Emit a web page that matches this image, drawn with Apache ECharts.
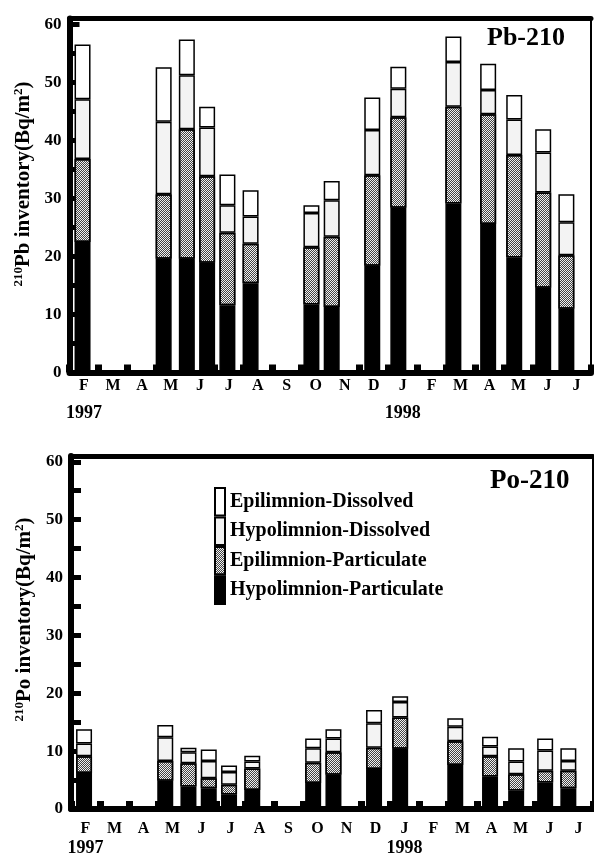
<!DOCTYPE html>
<html>
<head>
<meta charset="utf-8">
<script src="https://cdn.jsdelivr.net/npm/echarts@6/dist/echarts.min.js"></script>
<style>
  html, body { margin: 0; padding: 0; background: #fff; }
  #chart { width: 594px; height: 857px; }
</style>
</head>
<body>
<div id="chart"></div>
<script>
// month labels along the bottom, years under F 1997 and J 1998
const months = ['F', 'M', 'A', 'M', 'J', 'J', 'A', 'S', 'O', 'N', 'D', 'J', 'F', 'M', 'A', 'M', 'J', 'J']
const yearAt = [0, 11]
const yearText = ['1997', '1998']

// sampling dates, in months from 1 Feb 1997
const sampleTime = [0.44, 3.28, 4.01, 4.75, 5.42, 6.21, 8.38, 9.02, 10.45, 11.38, 13.26, 14.43, 15.38, 16.38, 17.1]

// Pb-210 inventory (Bq/m2)
const pbHypoPart = [22.5, 19.6, 19.6, 18.9, 11.6, 15.4, 11.7, 11.3, 18.4, 28.4, 29.1, 25.6, 19.8, 14.6, 11.0]
const pbEpiPart = [14.3, 11.1, 22.3, 14.9, 12.5, 6.8, 9.9, 12.1, 15.6, 15.6, 16.7, 18.9, 17.7, 16.4, 9.2]
const pbHypoDiss = [10.3, 12.5, 9.3, 8.4, 4.7, 4.7, 5.9, 6.3, 7.8, 4.9, 7.7, 4.2, 6.1, 6.9, 5.7]
const pbEpiDiss = [9.4, 9.4, 6.2, 3.6, 5.3, 4.5, 1.3, 3.3, 5.6, 3.8, 4.4, 4.5, 4.2, 4.0, 4.8]

// Po-210 inventory (Bq/m2)
const poHypoPart = [6.2, 4.9, 3.9, 3.6, 2.5, 3.3, 4.5, 5.9, 6.9, 10.4, 7.6, 5.6, 3.2, 4.6, 3.6]
const poEpiPart = [2.9, 3.4, 4.0, 1.7, 1.7, 3.7, 3.5, 3.9, 3.7, 5.4, 4.1, 3.5, 2.8, 2.0, 3.0]
const poHypoDiss = [2.2, 4.1, 1.9, 3.0, 2.2, 1.2, 2.5, 2.4, 4.2, 2.7, 2.5, 1.7, 2.2, 3.5, 1.7]
const poEpiDiss = [2.5, 2.1, 0.8, 2.0, 1.1, 1.0, 1.7, 1.6, 2.3, 1.0, 1.5, 1.7, 2.3, 2.1, 2.2]

const names = ['Epilimnion-Dissolved', 'Hypolimnion-Dissolved', 'Epilimnion-Particulate', 'Hypolimnion-Particulate']
const fills = { 'Hypolimnion-Particulate': '#000', 'Epilimnion-Particulate': '#f0f0f0', 'Hypolimnion-Dissolved': '#f3f3f3', 'Epilimnion-Dissolved': '#fff' }

const serif = "'Liberation Serif', 'Times New Roman', serif"

// the time axis is cut into tenth-of-a-month slots so the stacked bars can sit at their dates
const slotsPerMonth = 10
const slots = Array.from({ length: months.length * slotsPerMonth }, (_, i) => String(i))
const slotOf = t => Math.round(t * slotsPerMonth - 0.5)

// fine checker screen for the particulate epilimnion layer
const checker = {
  symbol: 'rect',
  symbolSize: 1,
  dashArrayX: [[1, 1], [0, 1, 1, 0]],
  dashArrayY: [1, 0],
  color: '#444'
}

const myChart = echarts.init(document.getElementById('chart'))

function monthAxis (grid, margin, yearLine) {
  return {
    type: 'category',
    gridIndex: grid,
    data: months,
    position: 'bottom',
    boundaryGap: true,
    axisLine: { onZero: false, lineStyle: { color: '#000', width: 6 } },
    axisTick: { show: true, inside: true, length: 8, interval: 0, lineStyle: { color: '#000', width: 7 } },
    axisLabel: {
      interval: 0,
      margin,
      formatter: (v, i) => {
        const k = yearAt.indexOf(i)
        return k >= 0 ? `{m|${v}}\n{y|${yearText[k]}}` : `{m|${v}}`
      },
      rich: {
        m: { fontFamily: serif, fontWeight: 'bold', fontSize: 16, lineHeight: 18, color: '#000' },
        y: { fontFamily: serif, fontWeight: 'bold', fontSize: 18, lineHeight: yearLine, color: '#000' }
      }
    },
    splitLine: { show: false }
  }
}

function slotAxis (grid) {
  return {
    type: 'category',
    gridIndex: grid,
    position: 'top',
    data: slots,
    boundaryGap: true,
    axisLine: { show: true, onZero: false, lineStyle: { color: '#000', width: 5 } },
    axisTick: { show: false },
    axisLabel: { show: false },
    splitLine: { show: false }
  }
}

function inventoryAxis (grid, nuclide, gap, shift) {
  return {
    type: 'value',
    gridIndex: grid,
    min: 0,
    max: 61,
    interval: 5,
    name: `{sup|210}{main|${nuclide} inventory(Bq/m}{sup|2}{main|)}`,
    nameLocation: 'middle',
    nameGap: gap,
    nameTextStyle: {
      padding: [0, 0, 0, shift],
      rich: {
        main: { fontFamily: serif, fontWeight: 'bold', fontSize: 21, lineHeight: 22, color: '#000' },
        sup: { fontFamily: serif, fontWeight: 'bold', fontSize: 13, lineHeight: 22, verticalAlign: 'top', color: '#000' }
      }
    },
    axisLine: { show: true, lineStyle: { color: '#000', width: 6 } },
    axisTick: { show: true, inside: true, length: 10, lineStyle: { color: '#000', width: 5 } },
    axisLabel: {
      margin: 8,
      fontFamily: serif,
      fontWeight: 'bold',
      fontSize: 17,
      color: '#000',
      formatter: v => (v % 10 === 0 ? v : '')
    },
    splitLine: { show: false }
  }
}

function stackSeries (stack, xIdx, yIdx, values) {
  // bottom to top: hypo-particulate, epi-particulate, hypo-dissolved, epi-dissolved
  const order = ['Hypolimnion-Particulate', 'Epilimnion-Particulate', 'Hypolimnion-Dissolved', 'Epilimnion-Dissolved']
  return order.map((name, s) => {
    const itemStyle = { color: fills[name], borderColor: '#000', borderWidth: 1.5 }
    if (name === 'Epilimnion-Particulate') itemStyle.decal = checker
    return {
      name,
      type: 'bar',
      stack,
      xAxisIndex: xIdx,
      yAxisIndex: yIdx,
      barWidth: 16,
      itemStyle,
      data: sampleTime.map((t, i) => [slotOf(t), values[s][i]])
    }
  })
}

myChart.setOption({
  animation: false,
  title: [
    { text: 'Pb-210', left: 487, top: 25, padding: 0, textStyle: { fontFamily: serif, fontWeight: 'bold', fontSize: 26, color: '#000' } },
    { text: 'Po-210', left: 490, top: 468, padding: 0, textStyle: { fontFamily: serif, fontWeight: 'bold', fontSize: 27, color: '#000' } }
  ],
  legend: {
    data: names,
    orient: 'vertical',
    left: 214,
    top: 487,
    padding: 0,
    itemGap: 0,
    itemWidth: 10,
    itemHeight: 27.5,
    icon: 'rect',
    selectedMode: false,
    textStyle: { fontFamily: serif, fontWeight: 'bold', fontSize: 20, color: '#000' }
  },
  grid: [
    { left: 69.5, top: 18.5, width: 521.5, height: 354, show: true, borderColor: '#000', borderWidth: 2 },
    { left: 71, top: 456, width: 522, height: 354, show: true, borderColor: '#000', borderWidth: 2 }
  ],
  xAxis: [monthAxis(0, 4, 38), slotAxis(0), monthAxis(1, 10.5, 21), slotAxis(1)],
  yAxis: [inventoryAxis(0, 'Pb', 31, 23), inventoryAxis(1, 'Po', 34, 26)],
  series: [
    ...stackSeries('pb', 1, 0, [pbHypoPart, pbEpiPart, pbHypoDiss, pbEpiDiss]),
    ...stackSeries('po', 3, 1, [poHypoPart, poEpiPart, poHypoDiss, poEpiDiss])
  ]
})
</script>
</body>
</html>
